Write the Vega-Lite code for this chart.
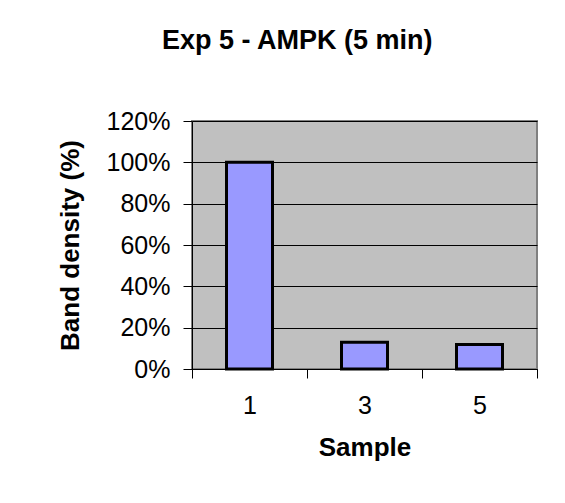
{
  "$schema": "https://vega.github.io/schema/vega-lite/v6.json",
  "autosize": "none",
  "width": 345,
  "height": 248,
  "padding": {"left": 192, "top": 121, "right": 28, "bottom": 134},
  "background": "white",
  "title": {
    "text": "Exp 5 - AMPK (5 min)",
    "font": "Liberation Sans",
    "fontSize": 27,
    "fontWeight": "bold",
    "color": "black",
    "anchor": "middle",
    "frame": "bounds",
    "offset": 54
  },
  "data": {
    "values": [
      {"Sample": "1", "density": 1.0},
      {"Sample": "3", "density": 0.13},
      {"Sample": "5", "density": 0.118}
    ]
  },
  "mark": {"type": "bar", "fill": "#9999FF", "stroke": "black", "strokeWidth": 3, "width": {"band": 0.4}},
  "encoding": {
    "x": {
      "field": "Sample",
      "type": "ordinal",
      "scale": {"paddingInner": 0, "paddingOuter": 0},
      "axis": {
        "title": "Sample",
        "labelAngle": 0,
        "tickBand": "extent",
        "tickSize": 9,
        "labelPadding": 15,
        "titlePadding": 16,
        "grid": false
      }
    },
    "y": {
      "field": "density",
      "type": "quantitative",
      "scale": {"domain": [0, 1.2], "nice": false},
      "axis": {
        "title": "Band density (%)",
        "values": [0, 0.2, 0.4, 0.6, 0.8, 1.0, 1.2],
        "format": ".0%",
        "tickSize": 9,
        "labelPadding": 13,
        "titlePadding": 23,
        "grid": true,
        "gridColor": "black",
        "gridWidth": 1,
        "gridOpacity": 1
      }
    }
  },
  "config": {
    "view": {"fill": "#C0C0C0", "stroke": "#808080", "strokeWidth": 2},
    "axis": {
      "domainColor": "black",
      "domainWidth": 1,
      "tickColor": "black",
      "tickWidth": 1,
      "labelFont": "Liberation Sans",
      "labelFontSize": 25,
      "labelColor": "black",
      "titleFont": "Liberation Sans",
      "titleFontSize": 26,
      "titleFontWeight": "bold",
      "titleColor": "black"
    }
  }
}
